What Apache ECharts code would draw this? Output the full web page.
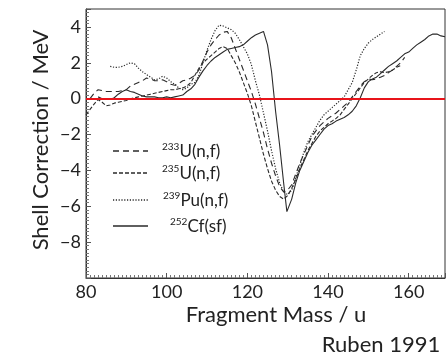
<!DOCTYPE html>
<html><head><meta charset="utf-8">
<script src="https://cdn.jsdelivr.net/npm/echarts@6/dist/echarts.min.js"></script>
<style>html,body{margin:0;padding:0;background:#fff}#c{width:448px;height:356px}</style>
</head><body><div id="c"></div>
<script>
// ---- data ----
const u233Mass = [81,82,83,84,85,86,87,88,89,90,91,92,93,94,95,96,97,98,99,100,101,102,103,104,105,106,107,108,109,110,111,112,113,114,115,116,117,118,119,120,121,122,123,124,125,126,127,128,129,130,131,132,133,134,135,136,137,138,139,140,141,142,143,144,145,146,147,148,149,150,151,152,153,154,155,156,157,158,159];
const u233Shell = [0.0,0.3,0.5,0.45,0.4,0.4,0.4,0.4,0.45,0.5,0.7,0.8,0.9,1.0,1.15,1.1,1.0,1.0,1.05,0.95,0.8,0.75,0.85,1.0,1.05,1.15,1.3,1.6,2.1,2.6,3.0,3.3,3.55,3.7,3.75,3.4,2.8,2.2,1.6,1.0,0.4,-0.3,-1.1,-1.9,-2.8,-3.6,-4.3,-4.9,-5.2,-5.1,-4.8,-4.2,-3.6,-3.1,-2.6,-2.1,-1.8,-1.5,-1.3,-1.1,-0.95,-0.8,-0.6,-0.4,-0.2,0.1,0.4,0.7,0.95,1.1,1.05,1.1,1.2,1.3,1.45,1.6,1.8,2.0,2.3];

const u235Mass = [80,81,82,83,84,85,86,87,88,89,90,91,92,93,94,95,96,97,98,99,100,101,102,103,104,105,106,107,108,109,110,111,112,113,114,115,116,117,118,119,120,121,122,123,124,125,126,127,128,129,130,131,132,133,134,135,136,137,138,139,140,141,142,143,144,145,146,147,148,149,150,151,152,153,154,155,156,157,158];
const u235Shell = [-0.9,-0.6,-0.3,-0.05,-0.2,-0.4,-0.35,-0.25,-0.2,-0.15,-0.1,0.0,0.05,0.1,0.15,0.2,0.25,0.3,0.35,0.4,0.45,0.5,0.5,0.55,0.6,0.7,0.9,1.3,1.7,2.0,2.2,2.4,2.6,2.8,2.9,2.8,2.4,2.0,1.5,0.9,0.3,-0.4,-1.3,-2.2,-3.1,-3.9,-4.6,-5.1,-5.45,-5.6,-5.4,-5.0,-4.5,-3.9,-3.4,-2.9,-2.5,-2.1,-1.8,-1.6,-1.4,-1.25,-1.1,-0.9,-0.6,-0.3,0.0,0.3,0.6,0.9,1.1,1.3,1.45,1.5,1.45,1.5,1.6,1.75,1.85];

const pu239Mass = [86,87,88,89,90,91,92,93,94,95,96,97,98,99,100,101,102,103,104,105,106,107,108,109,110,111,112,113,114,115,116,117,118,119,120,121,122,123,124,125,126,127,128,129,130,131,132,133,134,135,136,137,138,139,140,141,142,143,144,145,146,147,148,149,150,151,152,153,154];
const pu239Shell = [1.8,1.75,1.75,1.8,1.9,2.0,1.95,1.7,1.5,1.35,1.2,1.05,1.1,1.25,1.15,0.95,0.8,0.6,0.5,0.6,0.8,0.9,1.3,2.0,2.7,3.3,3.8,4.1,4.05,3.95,3.85,3.65,3.3,2.9,2.5,1.9,1.0,0.2,-0.8,-1.8,-2.9,-3.9,-4.7,-5.2,-5.35,-5.1,-4.4,-3.7,-3.0,-2.4,-2.0,-1.6,-1.2,-0.9,-0.7,-0.5,-0.3,-0.1,0.1,0.5,0.9,1.6,2.4,2.8,3.1,3.3,3.45,3.6,3.75];

const cf252Mass = [83,84,85,86,87,88,89,90,91,92,93,94,95,96,97,98,99,100,101,102,103,104,105,106,107,108,109,110,111,112,113,114,115,116,117,118,119,120,121,122,123,124,125,126,127,128,129,129.8,131,132,133,134,135,136,137,138,139,140,141,142,143,144,145,146,147,148,149,150,151,152,153,154,155,156,157,158,159,160,161,162,163,164,165,166,167,168,169];
const cf252Shell = [0.1,0.0,0.0,-0.05,0.05,0.25,0.4,0.5,0.4,0.35,0.25,0.15,0.1,0.1,0.1,0.05,0.05,0.1,0.05,0.1,0.15,0.2,0.4,0.55,0.8,1.2,1.55,1.85,2.1,2.3,2.45,2.6,2.75,2.8,2.85,2.9,3.0,3.2,3.4,3.55,3.65,3.75,3.0,1.5,-0.7,-2.6,-4.7,-6.3,-5.6,-4.7,-4.0,-3.5,-3.0,-2.6,-2.3,-2.0,-1.7,-1.5,-1.4,-1.25,-1.15,-1.05,-0.9,-0.7,-0.4,0.05,0.6,0.95,1.1,1.2,1.4,1.6,1.8,1.95,2.1,2.3,2.5,2.6,2.8,3.0,3.15,3.3,3.5,3.6,3.6,3.5,3.45];

const xTicks = [80,100,120,140,160];
const yTicks = [-8,-6,-4,-2,0,2,4];
const seriesNames = ['233U(n,f)','235U(n,f)','239Pu(n,f)','252Cf(sf)'];

// ---- chart ----
const pairs = (m, v) => m.map((x, i) => [x, v[i]]);
const FONT = 'Lato';
const INK = '#222';
const styles = [
  {type:[6,4], width:1.1},
  {type:[4,2], width:1.1},
  {type:[1.2,1.6], width:1.2},
  {type:'solid', width:1.1}
];
const dataSets = [pairs(u233Mass,u233Shell), pairs(u235Mass,u235Shell), pairs(pu239Mass,pu239Shell), pairs(cf252Mass,cf252Shell)];

const chart = echarts.init(document.getElementById('c'), null, {renderer:'canvas'});
const series = dataSets.map((d, i) => ({
  name: seriesNames[i], type:'line', data:d, symbol:'none', smooth:false,
  lineStyle:{color:'#2a2a2a', width:styles[i].width, type:styles[i].type},
  z: 2
}));
series[3].markLine = {
  silent:true, symbol:['none','none'], label:{show:false},
  lineStyle:{color:'#e8141a', width:2, type:'solid'},
  data:[{yAxis:0}], z:5
};

const legendY = [151, 173, 200, 226];
const legendLabels = [['233','U(n,f)'],['235','U(n,f)'],['239','Pu(n,f)'],['252','Cf(sf)']];
const legendX = [162,162,163,170];
const graphic = [];
legendY.forEach((y, i) => {
  const dash = styles[i].type === 'solid' ? null : styles[i].type;
  graphic.push({type:'line', shape:{x1:113, y1:y, x2:148, y2:y},
    style:{stroke:'#2a2a2a', lineWidth: i===3 ? 1.6 : 1.3, lineDash: dash}});
  graphic.push({type:'text', x:legendX[i], y:y, style:{
    text:'{s|'+legendLabels[i][0]+'}{n|'+legendLabels[i][1]+'}',
    verticalAlign:'middle', fill:INK,
    rich:{
      s:{fontSize:10, fontFamily:FONT, fill:INK, verticalAlign:'top', lineHeight:19},
      n:{fontSize:17, fontFamily:FONT, fill:INK, verticalAlign:'bottom', lineHeight:19}
    }}});
});
graphic.push({type:'text', x:41, y:140, rotation:Math.PI/2, style:{
  text:'Shell Correction / MeV', fontSize:22, fontFamily:FONT, fill:INK, align:'center', verticalAlign:'middle'}});
graphic.push({type:'text', x:276, y:315, style:{
  text:'Fragment Mass / u', fontSize:22, fontFamily:FONT, fill:INK, align:'center', verticalAlign:'middle'}});
graphic.push({type:'text', x:381, y:345, style:{
  text:'Ruben 1991', fontSize:22, fontFamily:FONT, fill:INK, align:'center', verticalAlign:'middle'}});

chart.setOption({
  animation:false,
  backgroundColor:'#fff',
  grid:{left:86, right:1, top:9, bottom:78, show:true, borderColor:'#333', borderWidth:1, backgroundColor:'transparent'},
  xAxis:{
    type:'value', min:80, max:169, interval:20,
    axisLine:{show:true, onZero:false, lineStyle:{color:'#333', width:1}},
    axisTick:{show:true, inside:true, length:5, lineStyle:{color:'#555'}},
    minorTick:{show:true, splitNumber:20, length:3, lineStyle:{color:'#777', width:1}},
    splitLine:{show:false}, minorSplitLine:{show:false},
    axisLabel:{fontSize:18, fontFamily:FONT, color:INK, margin:5,
      formatter:v => xTicks.includes(v) ? String(v) : ''}
  },
  yAxis:{
    type:'value', min:-10, max:5, interval:2,
    axisLine:{show:true, onZero:false, lineStyle:{color:'#333', width:1}},
    axisTick:{show:true, inside:true, length:5, lineStyle:{color:'#555'}},
    minorTick:{show:true, splitNumber:10, length:3, lineStyle:{color:'#777', width:1}},
    splitLine:{show:false}, minorSplitLine:{show:false},
    axisLabel:{fontSize:18, fontFamily:FONT, color:INK, margin:5,
      formatter:v => yTicks.includes(v) ? (v < 0 ? '\u2212' + Math.abs(v) : String(v)) : ''}
  },
  graphic: graphic,
  series: series
});
</script>
</body></html>
